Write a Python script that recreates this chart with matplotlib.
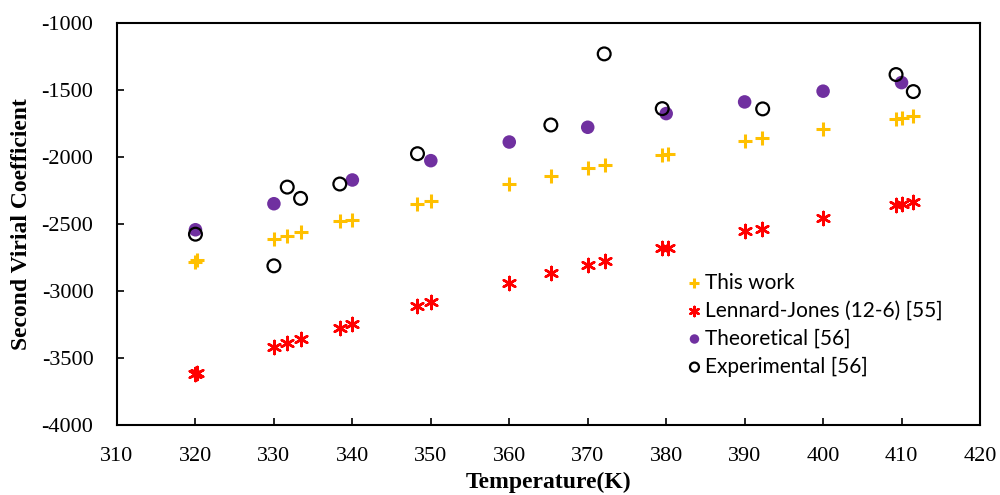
import matplotlib
matplotlib.use("Agg")
import matplotlib.pyplot as plt

# temperatures (K) and second virial coefficients
t_this = [320, 320.2, 330, 331.7, 333.4, 338.4, 340, 348.3, 350, 360, 365.3,
          370, 372.2, 379.5, 380.2, 390, 392.2, 400, 409.3, 410, 411.5]
b_this = [-2780, -2770, -2613, -2588, -2561, -2481, -2469, -2349, -2332, -2202, -2140,
          -2083, -2063, -1988, -1978, -1879, -1859, -1792, -1714, -1707, -1697]

t_lj = [320, 320.2, 330, 331.7, 333.4, 338.4, 340, 348.3, 350, 360, 365.3,
        370, 372.2, 379.5, 380.2, 390, 392.2, 400, 409.3, 410, 411.5]
b_lj = [-3618, -3610, -3415, -3390, -3357, -3273, -3245, -3109, -3084, -2937, -2862,
        -2805, -2777, -2680, -2680, -2556, -2538, -2456, -2357, -2352, -2334]

t_theo = [320, 330, 340, 350, 360, 370, 380, 390, 400, 410]
b_theo = [-2543, -2349, -2172, -2028, -1889, -1779, -1677, -1590, -1510, -1446]

t_exp = [320, 330, 331.7, 333.4, 338.4, 348.3, 365.3, 372.1, 379.5, 392.3, 409.3, 411.5]
b_exp = [-2576, -2812, -2225, -2309, -2202, -1976, -1762, -1232, -1640, -1642, -1386, -1513]

plt.rcParams['font.family'] = ['Liberation Serif', 'DejaVu Serif']
plt.rcParams['axes.unicode_minus'] = False

fig = plt.figure(figsize=(10, 4.95), dpi=100)
ax = fig.add_axes([0.117, 0.141, 0.863, 0.813])

ax.scatter(t_this, b_this, marker='+', s=100, linewidths=2.2, color='#FFC000',
           label='This work', zorder=3)
ax.scatter(t_lj, b_lj, marker=(6, 2, 0), s=90, linewidths=1.8, color='#FF0000',
           label='Lennard-Jones (12-6) [55]', zorder=3)
ax.scatter(t_theo, b_theo, marker='o', s=95, color='#7030A0', edgecolors='none',
           label='Theoretical [56]', zorder=3)
ax.scatter(t_exp, b_exp, marker='o', s=85, facecolors='none', edgecolors='black',
           linewidths=1.6, label='Experimental [56]', zorder=4)

ax.set_xlim(310, 420)
ax.set_ylim(-4000, -1000)
ax.set_xticks(range(310, 421, 10))
ax.set_yticks(range(-4000, -999, 500))
ax.tick_params(direction='in', length=5, width=1.2, labelsize=16)
ax.tick_params(axis='y', pad=17)
ax.tick_params(axis='x', pad=16)
for s in ax.spines.values():
    s.set_linewidth(1.5)

ax.set_xlabel('Temperature(K)', fontsize=17, fontweight='bold', labelpad=4)
ax.set_ylabel('Second Virial Coefficient', fontsize=17, fontweight='bold', labelpad=7)

ax.legend(loc='upper left', bbox_to_anchor=(0.645, 0.405), frameon=False,
          prop={'family': 'Lato', 'size': 15}, handletextpad=0.0,
          handlelength=1.0, labelspacing=0.38, borderpad=0, markerscale=0.7)

fig.savefig('out.png', dpi=100)
